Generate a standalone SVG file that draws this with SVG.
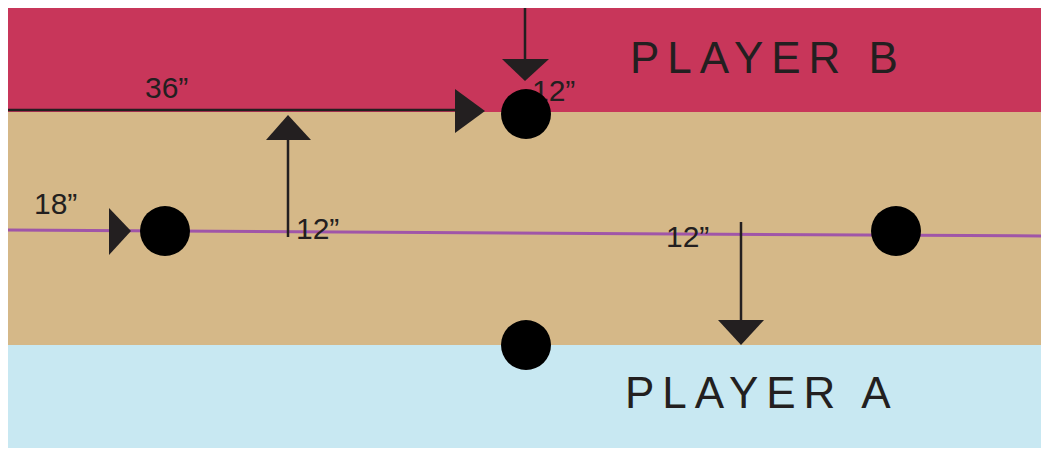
<svg xmlns="http://www.w3.org/2000/svg" width="1041" height="450" viewBox="0 0 1041 450">
<style>
.lbl{font-family:"Liberation Sans",Arial,sans-serif;font-size:30px;fill:#231F20}
.big{font-family:"Liberation Sans",Arial,sans-serif;font-size:44px;fill:#231F20;letter-spacing:8px}
.ln{stroke:#231F20;stroke-width:2.5;fill:none}
.ah{fill:#231F20}
.dot{fill:#000}
</style>
<rect x="0" y="0" width="1041" height="450" fill="#fff"/>
<g id="bands">
<rect x="8" y="8" width="1033" height="104" fill="#C8365A"/>
<rect x="8" y="112" width="1033" height="233" fill="#D5B888"/>
<rect x="8" y="345" width="1033" height="103" fill="#C8E8F2"/>
<line x1="8" y1="230" x2="1041" y2="236" stroke="#A055A8" stroke-width="3"/>
</g>
<g id="labels">
<text class="big" x="630" y="73">PLAYER B</text>
<text class="big" x="625" y="408">PLAYER A</text>
</g>
<g id="connectors">
<line class="ln" x1="8" y1="110" x2="458" y2="110"/>
<polygon class="ah" points="455,89 485,111 455,133"/>
<line class="ln" x1="525" y1="8" x2="525" y2="62"/>
<polygon class="ah" points="502,59 549,59 525,81"/>
<line class="ln" x1="288" y1="237" x2="288" y2="138"/>
<polygon class="ah" points="266,140 311,140 288,115"/>
<polygon class="ah" points="109,208 131,231 109,255"/>
<line class="ln" x1="741" y1="222" x2="741" y2="322"/>
<polygon class="ah" points="718,320 764,320 741,345"/>
<text class="lbl" x="145" y="98">36”</text>
<text class="lbl" x="532" y="101">12”</text>
<text class="lbl" x="34" y="214">18”</text>
<text class="lbl" x="296" y="239">12”</text>
<text class="lbl" x="666" y="247">12”</text>
</g>
<g id="node-b"><circle class="dot" cx="526" cy="114" r="25"/></g>
<g id="node-left"><circle class="dot" cx="165" cy="231" r="25"/></g>
<g id="node-right"><circle class="dot" cx="896" cy="231" r="25"/></g>
<g id="node-a"><circle class="dot" cx="526" cy="345" r="25"/></g>
</svg>
